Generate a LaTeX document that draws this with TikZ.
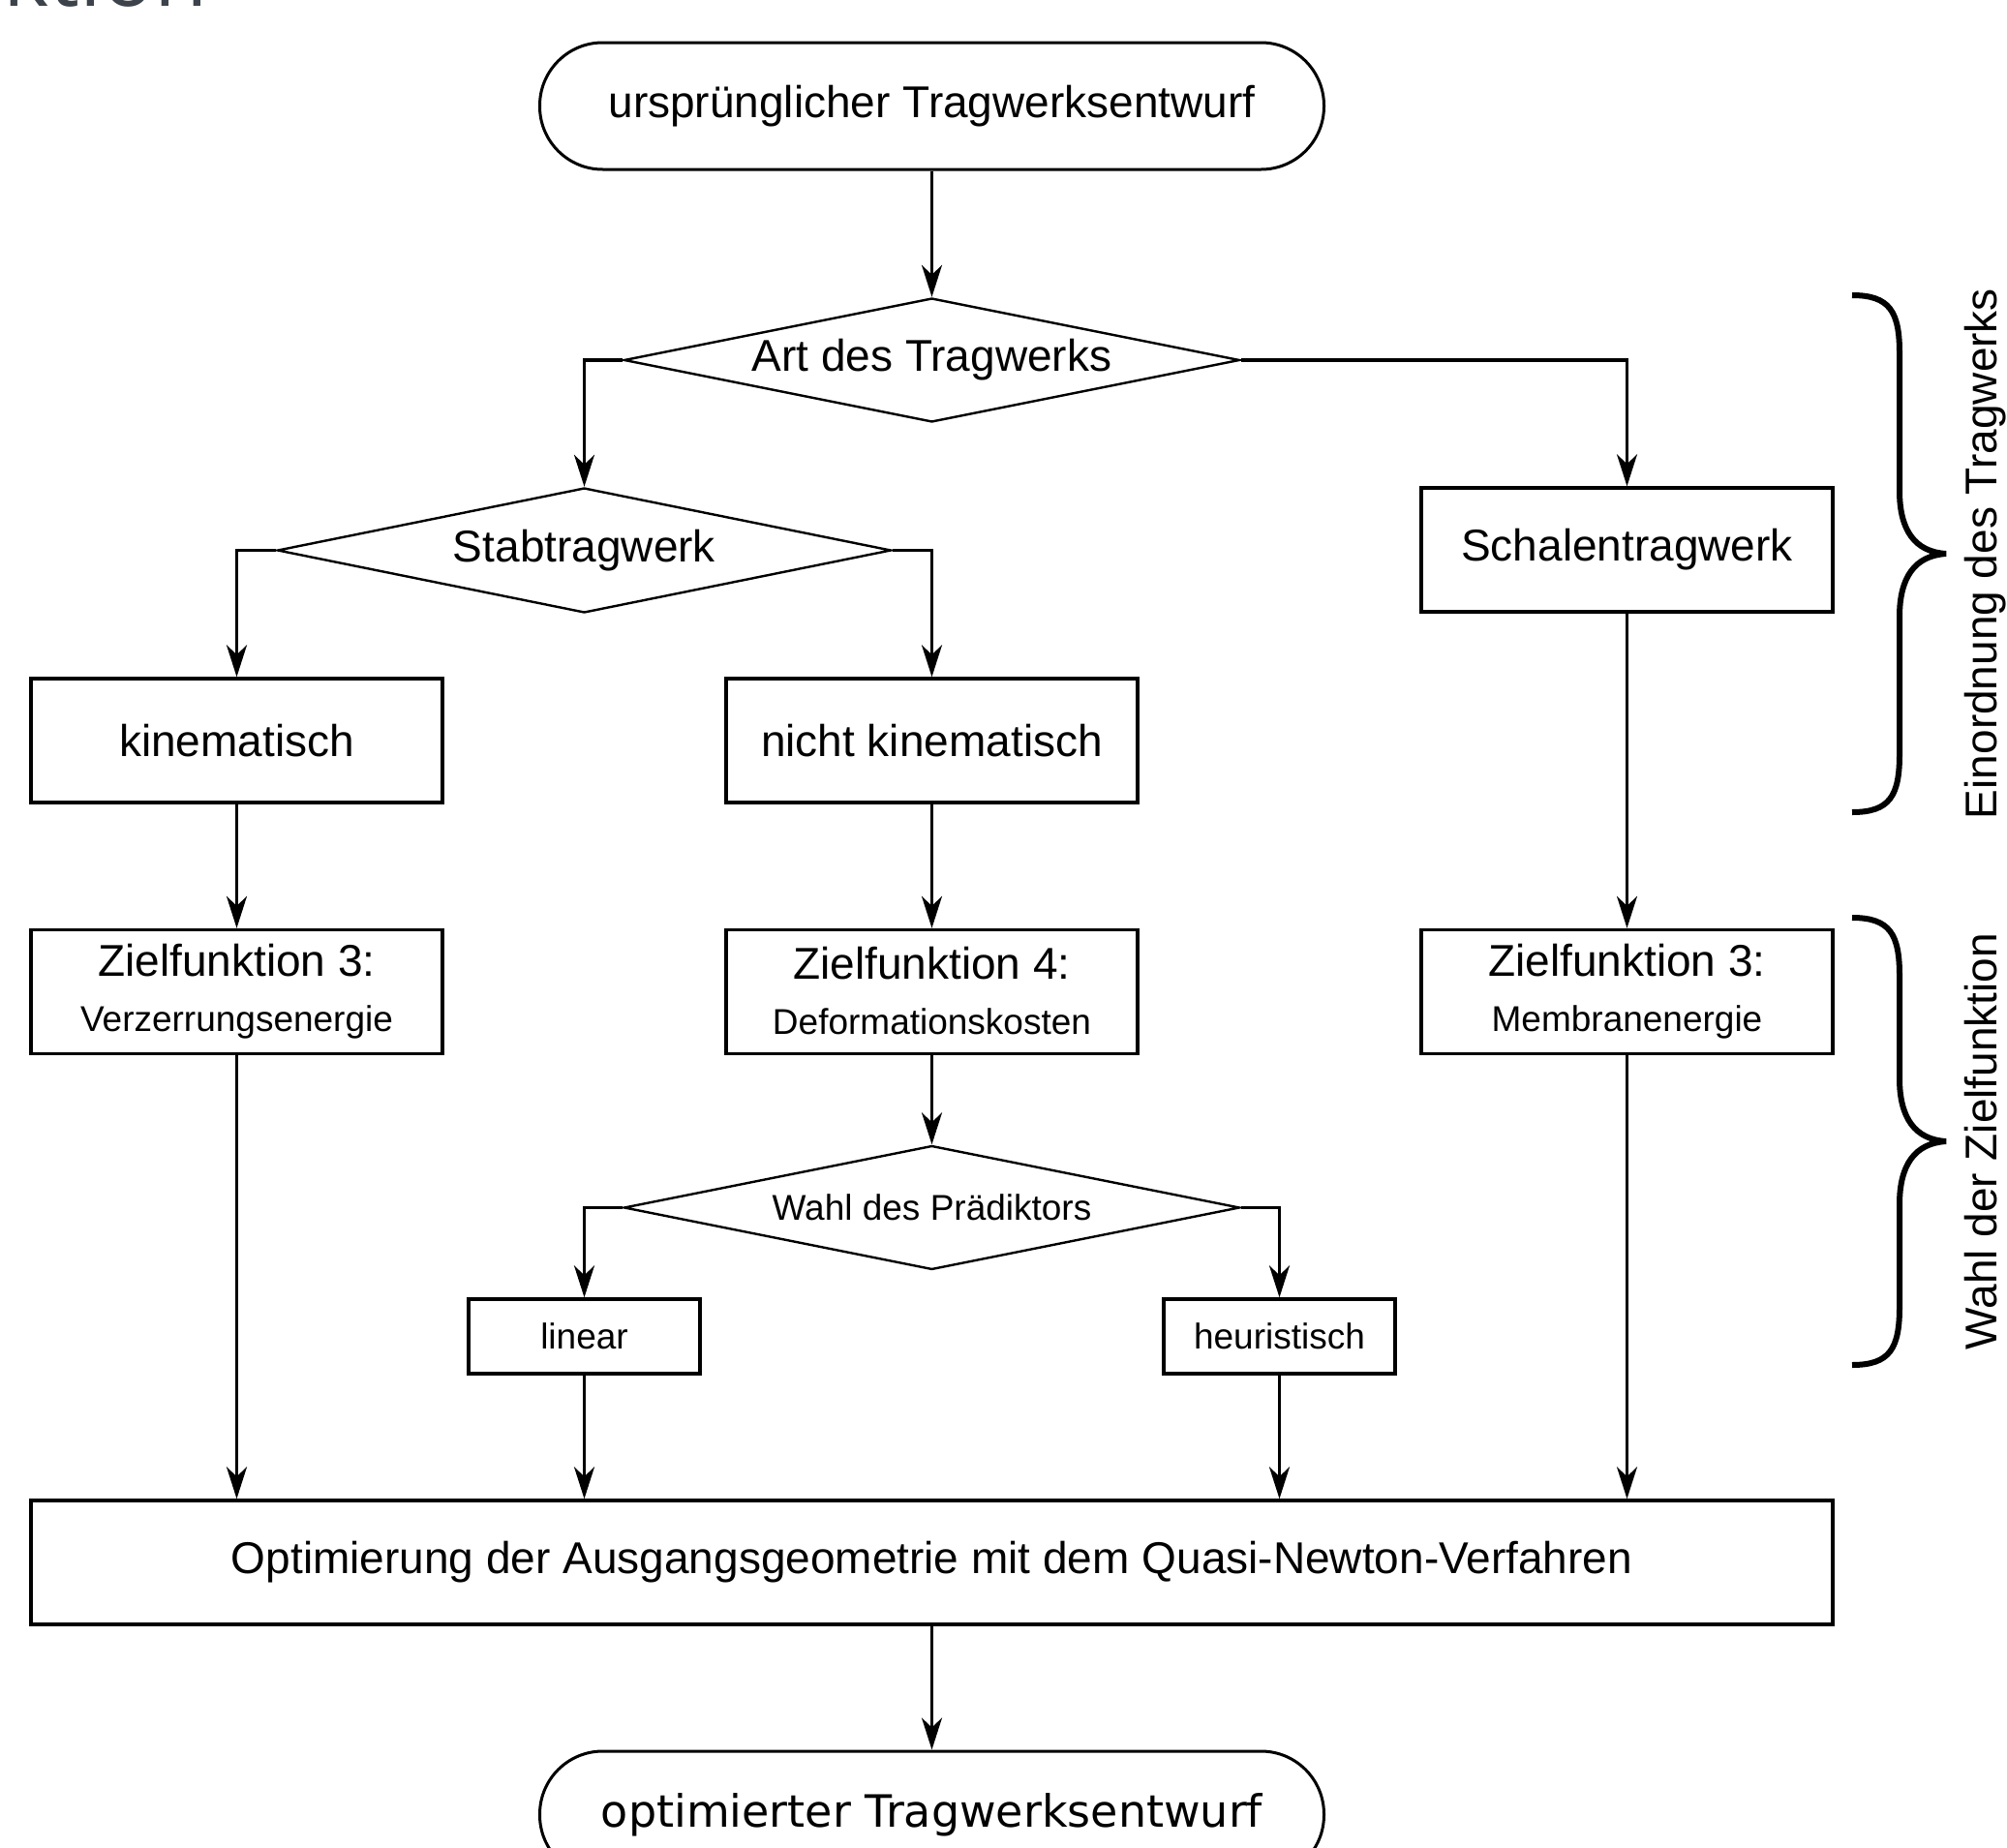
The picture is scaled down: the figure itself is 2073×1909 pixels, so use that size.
\documentclass[tikz,border=0pt]{standalone}
\usepackage{fontspec}
\setmainfont{Liberation Sans}
\newfontfamily\dejafont{DejaVu Sans}
\newfontfamily\titlefont{Open Sans}
\usetikzlibrary{shapes.geometric,arrows.meta}
\definecolor{titlegrey}{RGB}{61,67,75}
\begin{document}
\begin{tikzpicture}[x=1pt,y=-1pt,
  big/.style={font=\fontsize{46}{55}\selectfont},
  small/.style={font=\fontsize{37}{44}\selectfont},
  box/.style={draw, line width=3.4pt, rectangle, inner sep=0pt, minimum width=425pt, minimum height=128pt},
  smallbox/.style={draw, line width=3.4pt, rectangle, inner sep=0pt, minimum width=239pt, minimum height=77pt, small},
  decision/.style={draw, line width=2.4pt, diamond, aspect=5, inner sep=0pt, minimum width=636pt, minimum height=128pt},
  terminal/.style={draw, line width=3pt, rectangle, rounded corners=65pt, inner sep=0pt, minimum width=810pt, minimum height=131pt},
  conn/.style={line width=3.2pt, -{Stealth[length=33pt,width=21pt,inset=10pt]}},
  bracepath/.style={line width=6pt},
  sidelabel/.style={big, rotate=90, anchor=base, inner sep=0pt},
  txt/.style={anchor=base, inner sep=0pt},
]
\useasboundingbox (0,0) rectangle (2073,1909);

% cut-off title fragment
\node[font=\titlefont\fontsize{90}{100}\selectfont, text=titlegrey, anchor=base east, inner sep=0pt] (title) at (215,6.5) {ktion};

% nodes
\node[terminal, big] (start) at (962.5,109.5) {ursprünglicher Tragwerksentwurf};
\node[decision, big] (art) at (962.5,372) {Art des Tragwerks};
\node[decision, big, minimum width=634pt, minimum height=129pt] (stab) at (603.5,568.5) {Stabtragwerk};
\node[box, big] (schale) at (1680.5,568) {Schalentragwerk};
\node[box, big] (kin) at (244.5,765) {kinematisch};
\node[box, big] (nkin) at (962.5,765) {nicht kinematisch};

\node[box] (zfa) at (244.5,1024.5) {};
\node[box] (zfb) at (962.5,1024.5) {};
\node[box] (zfc) at (1680.5,1024.5) {};
\node[txt, big] (zfat) at (244.5,1008) {Zielfunktion 3:};
\node[txt, small] (zfas) at (244.5,1065) {Verzerrungsenergie};
\node[txt, big] (zfbt) at (962.5,1011) {Zielfunktion 4:};
\node[txt, small] (zfbs) at (962.5,1068) {Deformationskosten};
\node[txt, big] (zfct) at (1680.5,1008) {Zielfunktion 3:};
\node[txt, small] (zfcs) at (1680.5,1065) {Membranenergie};

\node[decision, small] (wahl) at (962.5,1247.5) {Wahl des Prädiktors};
\node[smallbox] (lin) at (603.5,1380.5) {linear};
\node[smallbox] (heu) at (1321.5,1380.5) {heuristisch};

\node[box, big, minimum width=1861pt] (opt) at (962.5,1614) {Optimierung der Ausgangsgeometrie mit dem Quasi-Newton-Verfahren};
\node[terminal, font=\dejafont\fontsize{46}{55}\selectfont] (end) at (962.5,1874.5) {optimierter Tragwerksentwurf};

% connectors
\draw[conn] (start.south) -- (art.north);
\draw[conn] (art.west) -| (stab.north);
\draw[conn] (art.east) -| (schale.north);
\draw[conn] (stab.west) -| (kin.north);
\draw[conn] (stab.east) -| (nkin.north);
\draw[conn] (kin.south) -- (zfa.north);
\draw[conn] (nkin.south) -- (zfb.north);
\draw[conn] (schale.south) -- (zfc.north);
\draw[conn] (zfb.south) -- (wahl.north);
\draw[conn] (wahl.west) -| (lin.north);
\draw[conn] (wahl.east) -| (heu.north);
\draw[conn] (zfa.south) -- (zfa.south |- opt.north);
\draw[conn] (lin.south) -- (lin.south |- opt.north);
\draw[conn] (heu.south) -- (heu.south |- opt.north);
\draw[conn] (zfc.south) -- (zfc.south |- opt.north);
\draw[conn] (opt.south) -- (end.north);

% braces
\draw[bracepath] (1913,305) .. controls (1952,305) and (1962,322) .. (1962,365) -- (1962,507)
  .. controls (1962,548) and (1978,570) .. (2010,572)
  .. controls (1978,574) and (1962,596) .. (1962,637) -- (1962,779)
  .. controls (1962,822) and (1952,839) .. (1913,839);
\draw[bracepath] (1913,948) .. controls (1952,948) and (1962,965) .. (1962,1008) -- (1962,1114)
  .. controls (1962,1155) and (1978,1177) .. (2010,1179)
  .. controls (1978,1181) and (1962,1203) .. (1962,1244) -- (1962,1350)
  .. controls (1962,1393) and (1952,1410) .. (1913,1410);

\node[sidelabel] (lab1) at (2062,572) {Einordnung des Tragwerks};
\node[sidelabel] (lab2) at (2062,1179) {Wahl der Zielfunktion};
\end{tikzpicture}
\end{document}
